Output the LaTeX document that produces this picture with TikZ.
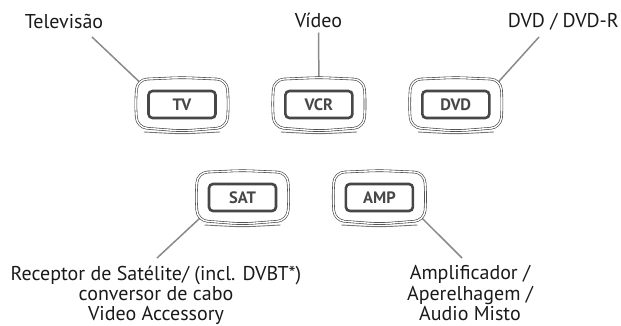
\documentclass[tikz,border=0pt]{standalone}
\usepackage{fontspec}
\setmainfont{PT Sans}
\usepackage{tikz}
\usetikzlibrary{positioning}
\definecolor{framecolor}{HTML}{3C3C3C}
\definecolor{capcolor}{HTML}{474747}
\definecolor{leadercolor}{HTML}{8A8A8A}
\definecolor{textcolor}{HTML}{1A1A1A}

% outline of a remote key around a keybox node
\newcommand{\keyoutline}[1]{%
  \draw[keyline, shift={(#1.center)}] (-45,25) -- (0,27) -- (45,25) -- (46.5,0) -- (45,-23) -- (0,-26.5) -- (-45,-23) -- (-46.5,0) -- cycle;
  \draw[keyshade, shift={(#1.center)}] (-38,-27.5) -- (0,-29.5) -- (38,-27.5);}

\begin{document}
\begin{tikzpicture}[x=1pt, y=1pt, node distance=43.5pt,
  keybox/.style={rectangle, minimum width=93pt, minimum height=52pt, inner sep=0pt},
  keyline/.style={draw=framecolor, line width=0.6pt, double=white, double distance=1.4pt, rounded corners=10pt},
  keyshade/.style={draw=framecolor!70, line width=0.9pt, rounded corners=12pt},
  keycap/.style={rectangle, rounded corners=4pt, draw=capcolor, line width=2.6pt, minimum width=67pt, minimum height=27pt, inner sep=0pt, text=capcolor, font=\fontsize{16.5}{16.5}\selectfont\bfseries},
  device/.style={text=textcolor, font=\fontsize{20}{20.3}\selectfont, inner sep=0pt, align=center},
  leader/.style={draw=leadercolor, line width=1.5pt}]

  \useasboundingbox (0,0) rectangle (621,-325);

  % Top row keys
  \node[keybox] (tv) at (182,-104.5) {};
  \node[keybox, right=of tv] (vcr) {};
  \node[keybox, right=of vcr] (dvd) {};

  % Bottom row keys
  \node[keybox] (sat) at (242.5,-197.5) {};
  \node[keybox, right=of sat] (amp) {};

  % Device names
  \node[device, anchor=base] (tvlabel) at (64,-28) {Televisão};
  \node[device, anchor=base] (vcrlabel) at (318.5,-27.5) {Vídeo};
  \node[device, anchor=base east] (dvdlabel) at (619,-27.5) {DVD / DVD-R};
  \node[device, anchor=north] (satlabel) at (156,-265.5) {Receptor de Satélite/ (incl. DVBT*)\\conversor de cabo\\Video Accessory};
  \node[device, anchor=north] (amplabel) at (470,-265.5) {Amplificador /\\Aperelhagem /\\Audio Misto};

  % Leaders
  \draw[leader] ([shift={(28,-9)}]tvlabel.base) -- ([shift={(-43,23)}]tv.center);
  \draw[leader] ([yshift=-5pt]vcrlabel.base) -- ([yshift=27pt]vcr.center);
  \draw[leader] ([shift={(-80,-9.5)}]dvdlabel.base east) -- ([shift={(43,23)}]dvd.center);
  \draw[leader] ([shift={(-43,-21)}]sat.center) -- ([shift={(1,7.5)}]satlabel.north);
  \draw[leader] ([shift={(43,-21)}]amp.center) -- ([shift={(-8,7.5)}]amplabel.north);

  % Key outlines and caps
  \keyoutline{tv}
  \keyoutline{vcr}
  \keyoutline{dvd}
  \keyoutline{sat}
  \keyoutline{amp}
  \node[keycap] (tvcap) at (tv) {TV};
  \node[keycap] (vcrcap) at (vcr) {VCR};
  \node[keycap] (dvdcap) at (dvd) {DVD};
  \node[keycap] (satcap) at (sat) {SAT};
  \node[keycap] (ampcap) at (amp) {AMP};

\end{tikzpicture}
\end{document}
